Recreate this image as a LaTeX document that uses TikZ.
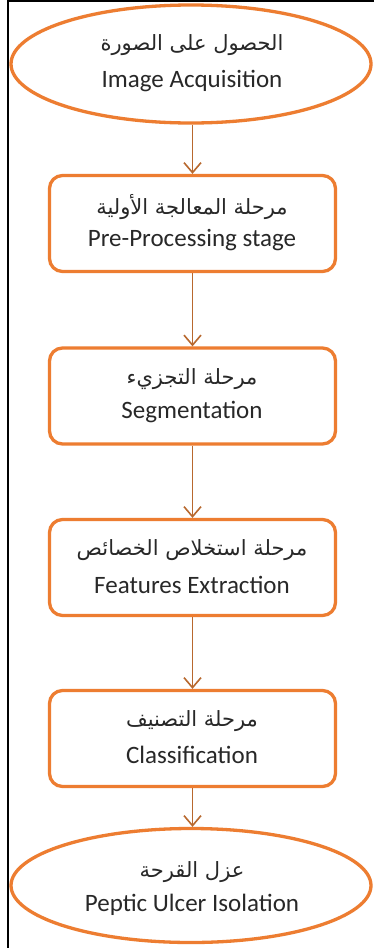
\documentclass[tikz,border=0pt]{standalone}
\usepackage{fontspec}
\setmainfont{Carlito}
\newfontfamily\arabicfont[Script=Arabic]{DejaVu Sans}
\TeXXeTstate=1
\usetikzlibrary{shapes.geometric,arrows.meta}
\definecolor{boxorange}{RGB}{237,125,49}
\definecolor{arrowbrown}{RGB}{184,104,46}
\definecolor{txtgray}{RGB}{40,40,40}
\begin{document}
\begin{tikzpicture}[x=1pt,y=-1pt,
  oval/.style={ellipse,draw=boxorange,line width=3.3pt,minimum width=360pt,minimum height=118pt,inner sep=0pt},
  stage/.style={rectangle,rounded corners=13pt,draw=boxorange,line width=3.3pt,minimum width=286pt,minimum height=96pt,inner sep=0pt},
  ar/.style={font=\arabicfont\fontsize{21}{24}\selectfont,text=txtgray,inner sep=0pt},
  en/.style={font=\fontsize{25}{29}\selectfont,text=txtgray,inner sep=0pt},
  flow/.style={draw=arrowbrown,line width=1.6pt,-{Straight Barb[length=10pt,width=17pt,line width=1.6pt]}}]
\useasboundingbox (0,0) rectangle (374,948);
\fill[white] (0,0) rectangle (374,948);
% frame
\coordinate (fTL) at (8,1);
\coordinate (fTR) at (374,1);
\coordinate (fBL) at (8,948);
\draw[black,line width=2.2pt] (fBL) -- (fTL) -- (fTR);
% shapes
\node[oval] (acq) at (191,64) {};
\node[stage] (pre) at (192.5,223.5) {};
\node[stage] (seg) at (192.5,396) {};
\node[stage] (fea) at (192.5,567.5) {};
\node[stage] (cls) at (192.5,738.5) {};
\node[oval,minimum height=114pt] (iso) at (191,885.5) {};
% texts
\node[ar] (acqA) at (192,45) {\beginR الحصول على الصورة\endR};
\node[en] (acqE) at (192,81) {Image Acquisition};
\node[ar] (preA) at (192,207) {\beginR مرحلة المعالجة الأولية\endR};
\node[en] (preE) at (192,240) {Pre-Processing stage};
\node[ar] (segA) at (192,379) {\beginR مرحلة التجزيء\endR};
\node[en] (segE) at (192,412) {Segmentation};
\node[ar] (feaA) at (192,550) {\beginR مرحلة استخلاص الخصائص\endR};
\node[en] (feaE) at (192,585) {Features Extraction};
\node[ar] (clsA) at (192,721) {\beginR مرحلة التصنيف\endR};
\node[en] (clsE) at (192,755) {Classification};
\node[ar] (isoA) at (192,872) {\beginR عزل القرحة\endR};
\node[en] (isoE) at (192,905) {Peptic Ulcer Isolation};
% arrows
\draw[flow] (acq.south -| pre.north) -- (pre.north);
\draw[flow] (pre) -- (seg);
\draw[flow] (seg) -- (fea);
\draw[flow] (fea) -- (cls);
\draw[flow] (cls.south) -- (iso.north -| cls.south);
\end{tikzpicture}
\end{document}
